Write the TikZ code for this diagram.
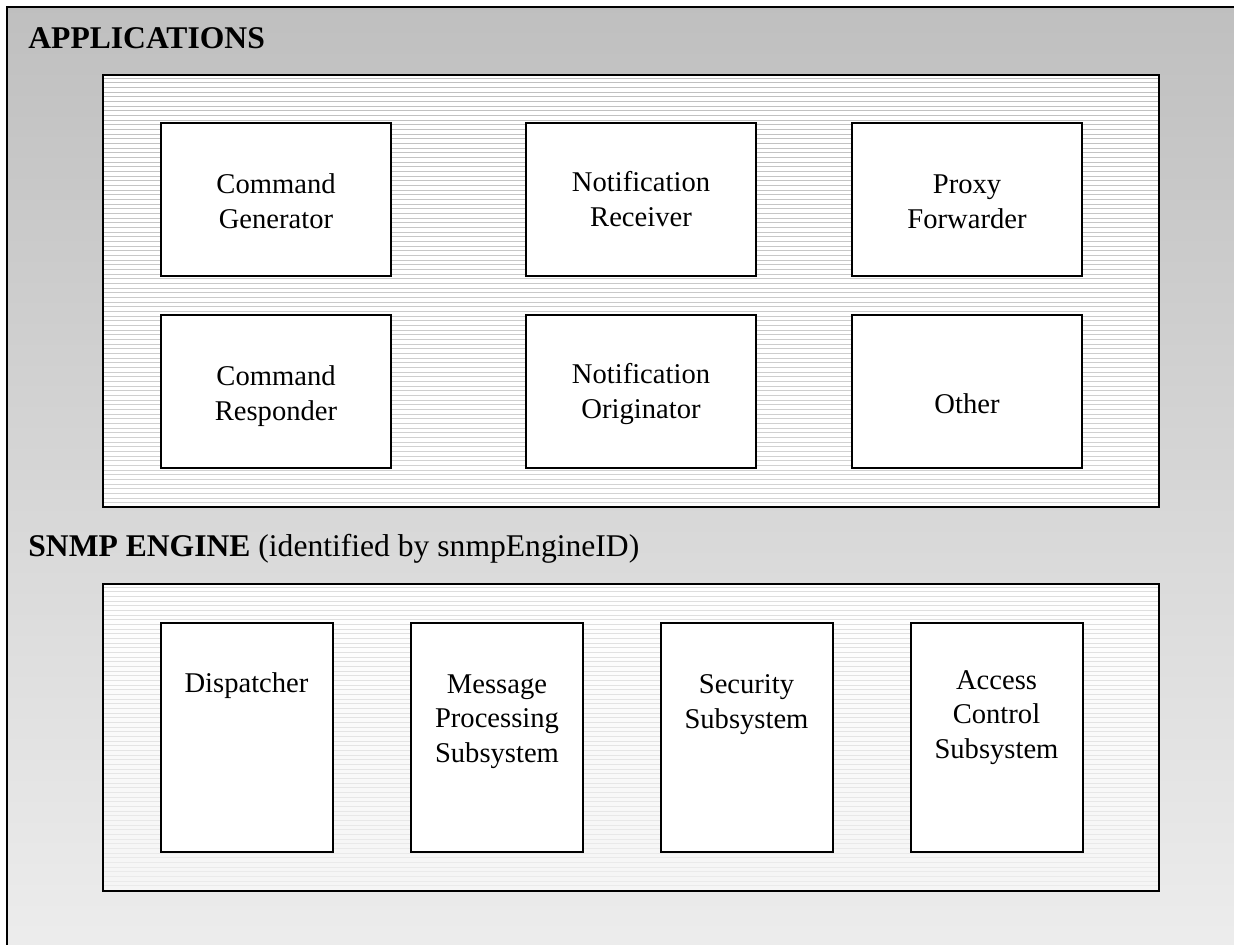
\documentclass[tikz,border=0pt]{standalone}
\usepackage{fontspec}
\setmainfont{Liberation Serif}
\usepackage{tikz}

\newcommand{\headfont}{\fontsize{15.8pt}{19pt}\selectfont}
\newcommand{\boxfont}{\fontsize{14.3pt}{17.25pt}\selectfont}

\begin{document}
\begin{tikzpicture}[
        x=0.5pt,   % 1 unit = 1 px
        y=-0.5pt,  % y counts downwards
        panel/.style={draw, line width=1.1pt, inner sep=0pt},
        appbox/.style={draw, line width=1pt, fill=white, minimum width=115pt, minimum height=76.5pt, inner sep=0pt},
        engbox/.style={draw, line width=1pt, fill=white, minimum width=86pt, minimum height=114.5pt, inner sep=0pt},
        boxtext/.style={anchor=base, align=center, font=\boxfont, inner sep=0pt},
        heading/.style={anchor=base west, font=\headfont, inner sep=0pt}
    ]
    \useasboundingbox (0,0) rectangle (1234,944);
    \clip (0,0) rectangle (1234,944);

    % outer frame
    \shade[top color=black!25, bottom color=black!7] (7,7) rectangle (1260,960);
    \draw[line width=1.2pt] (1260,7) -- (7,7) -- (7,960);

    % applications panel
    \fill[white] (103,75) rectangle (1159,507);
    \foreach \y in {78,82.67,...,505} {
        \pgfmathsetmacro\shd{25-8*(\y-78)/427}
        \draw[black!\shd, line width=0.5pt] (103,\y) -- (1159,\y);
    }
    \node[panel, minimum width=528pt, minimum height=216pt] (apps) at (631,291) {};

    % engine panel
    \shade[top color=white, bottom color=black!4] (103,584) rectangle (1159,891);
    \foreach \y in {587,591.67,...,889} {
        \pgfmathsetmacro\shd{13-5*(\y-587)/302}
        \draw[black!\shd, line width=0.5pt] (103,\y) -- (1159,\y);
    }
    \node[panel, minimum width=528pt, minimum height=153.5pt] (engine) at (631,737.5) {};

    % headings
    \node[heading] (appshead) at (28,48) {\textbf{APPLICATIONS}};
    \node[heading] (enghead) at (28,556) {\textbf{SNMP ENGINE} (identified by snmpEngineID)};

    % applications (text: y = baseline of last line)
    \node[appbox] (cmdgen) at (276,199.5) {};
    \node[appbox] (notrec) at (641,199.5) {};
    \node[appbox] (proxy) at (967,199.5) {};
    \node[appbox] (cmdresp) at (276,391.5) {};
    \node[appbox] (notorig) at (641,391.5) {};
    \node[appbox] (other) at (967,391.5) {};

    \node[boxtext] (cmdgen-t) at (276,228) {Command\\Generator};
    \node[boxtext] (notrec-t) at (641,226) {Notification\\Receiver};
    \node[boxtext] (proxy-t) at (967,228) {Proxy\\Forwarder};
    \node[boxtext] (cmdresp-t) at (276,420) {Command\\Responder};
    \node[boxtext] (notorig-t) at (641,418) {Notification\\Originator};
    \node[boxtext] (other-t) at (967,413) {Other};

    % engine subsystems
    \node[engbox] (disp) at (246.5,737.5) {};
    \node[engbox] (msgproc) at (497,737.5) {};
    \node[engbox] (secur) at (746.5,737.5) {};
    \node[engbox] (access) at (996.5,737.5) {};

    \node[boxtext] (disp-t) at (246.5,692) {Dispatcher};
    \node[boxtext] (msgproc-t) at (497,762) {Message\\Processing\\Subsystem};
    \node[boxtext] (secur-t) at (746.5,728) {Security\\Subsystem};
    \node[boxtext] (access-t) at (996.5,758) {Access\\Control\\Subsystem};
\end{tikzpicture}
\end{document}
